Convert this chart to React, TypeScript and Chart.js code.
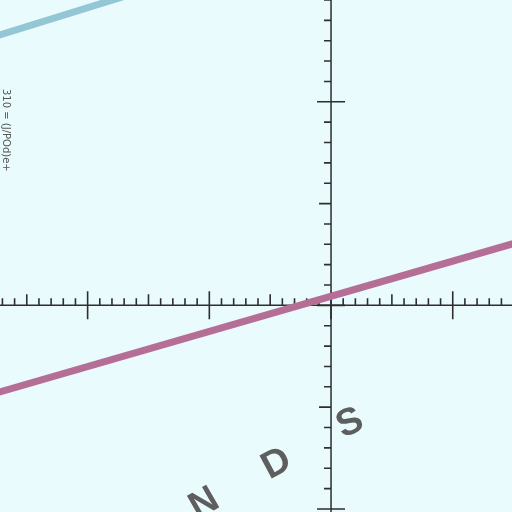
import { useEffect, useRef } from 'react';
import { Chart, registerables } from 'chart.js';

Chart.register(...registerables);

// visible window of the plot (data units)
const X_RANGE = [-27.2, 14.87];
const Y_RANGE = [-10.15, 15.0];

// tick values along the crossing axes
const X_MAJOR = [-20, -10, 0, 10];
const X_MEDIUM = [-25, -15, -5, 5];
const Y_MAJOR = [-10, 0, 10];
const Y_MEDIUM = [-5, 5];

// the two straight lines
const PINK_X = [-28, 16];
const PINK_Y = [-4.39, 3.21];
const BLUE_X = [-28, -16.5];
const BLUE_Y = [13.14, 15.27];

// curved caption letters (data position + rotation)
const LETTERS = ['N', 'D', 'S'];
const LETTER_X = [-10.4, -4.46, 1.56];
const LETTER_Y = [-9.75, -7.8, -5.8];
const LETTER_ROT = [-30, -28, -24];

const SIDE_LABEL = '310 = (J/POd)e+';

const BG = '#e9fbfd';
const AXIS = '#2e2e2e';

const inRange = (lo: number, hi: number) => {
  const out: number[] = [];
  for (let v = Math.ceil(lo); v <= Math.floor(hi); v++) out.push(v);
  return out;
};

const axesPlugin = {
  id: 'crossAxes',
  beforeDraw(chart: Chart) {
    const { ctx, width, height } = chart;
    ctx.save();
    ctx.fillStyle = BG;
    ctx.fillRect(0, 0, width, height);
    ctx.restore();
  },
  beforeDatasetsDraw(chart: Chart) {
    const { ctx, chartArea } = chart;
    const xs = chart.scales.x;
    const ys = chart.scales.y;
    const x0 = xs.getPixelForValue(0);
    const y0 = ys.getPixelForValue(0);
    ctx.save();
    ctx.strokeStyle = AXIS;
    ctx.lineWidth = 1.5;
    ctx.beginPath();
    ctx.moveTo(chartArea.left, y0);
    ctx.lineTo(chartArea.right, y0);
    ctx.moveTo(x0, chartArea.top);
    ctx.lineTo(x0, chartArea.bottom);
    ctx.stroke();

    ctx.lineWidth = 1.6;
    ctx.beginPath();
    inRange(X_RANGE[0], X_RANGE[1]).forEach((v) => {
      const px = xs.getPixelForValue(v);
      if (X_MAJOR.includes(v)) {
        ctx.moveTo(px, y0 - 14);
        ctx.lineTo(px, y0 + 14);
      } else if (X_MEDIUM.includes(v)) {
        ctx.moveTo(px, y0 - 11);
        ctx.lineTo(px, y0);
      } else {
        ctx.moveTo(px, y0 - 7);
        ctx.lineTo(px, y0);
      }
    });
    inRange(Y_RANGE[0], Y_RANGE[1]).forEach((v) => {
      const py = ys.getPixelForValue(v);
      if (Y_MAJOR.includes(v)) {
        ctx.moveTo(x0 - 14, py);
        ctx.lineTo(x0 + 14, py);
      } else if (Y_MEDIUM.includes(v)) {
        ctx.moveTo(x0 - 12, py);
        ctx.lineTo(x0, py);
      } else {
        ctx.moveTo(x0 - 7, py);
        ctx.lineTo(x0, py);
      }
    });
    ctx.stroke();
    ctx.restore();
  },
  afterDraw(chart: Chart) {
    const { ctx } = chart;
    const xs = chart.scales.x;
    const ys = chart.scales.y;
    ctx.save();
    ctx.fillStyle = '#5e5e5e';
    ctx.font = 'bold 38px "Liberation Sans", Arial, sans-serif';
    ctx.textAlign = 'center';
    ctx.textBaseline = 'middle';
    LETTERS.forEach((ch, i) => {
      ctx.save();
      ctx.translate(xs.getPixelForValue(LETTER_X[i]), ys.getPixelForValue(LETTER_Y[i]));
      ctx.rotate((LETTER_ROT[i] * Math.PI) / 180);
      ctx.fillText(ch, 0, 0);
      ctx.restore();
    });

    ctx.save();
    ctx.fillStyle = '#555';
    ctx.font = '10px "DejaVu Sans", sans-serif';
    ctx.translate(1, 89);
    ctx.rotate(Math.PI / 2);
    ctx.textAlign = 'left';
    ctx.textBaseline = 'bottom';
    ctx.fillText(SIDE_LABEL, 0, 0);
    ctx.restore();
    ctx.restore();
  },
};

export default function App() {
  const canvasRef = useRef<HTMLCanvasElement>(null);
  const chartRef = useRef<Chart | null>(null);

  useEffect(() => {
    document.body.style.margin = '0';
    if (!canvasRef.current) return;
    chartRef.current?.destroy();
    chartRef.current = new Chart(canvasRef.current, {
      type: 'scatter',
      data: {
        datasets: [
          {
            data: PINK_X.map((x, i) => ({ x, y: PINK_Y[i] })),
            showLine: true,
            borderColor: '#b56f96',
            borderWidth: 7,
            pointRadius: 0,
          },
          {
            data: BLUE_X.map((x, i) => ({ x, y: BLUE_Y[i] })),
            showLine: true,
            borderColor: '#94c7d6',
            borderWidth: 7,
            pointRadius: 0,
          },
        ],
      },
      options: {
        animation: false,
        responsive: false,
        devicePixelRatio: 1,
        layout: { padding: 0 },
        plugins: { legend: { display: false }, tooltip: { enabled: false } },
        scales: {
          x: { type: 'linear', display: false, min: X_RANGE[0], max: X_RANGE[1] },
          y: { type: 'linear', display: false, min: Y_RANGE[0], max: Y_RANGE[1] },
        },
      },
      plugins: [axesPlugin],
    });
    return () => { chartRef.current?.destroy(); chartRef.current = null; };
  }, []);

  return (
    <div style={{ width: 512, height: 512 }}>
      <canvas ref={canvasRef} width={512} height={512} />
    </div>
  );
}
